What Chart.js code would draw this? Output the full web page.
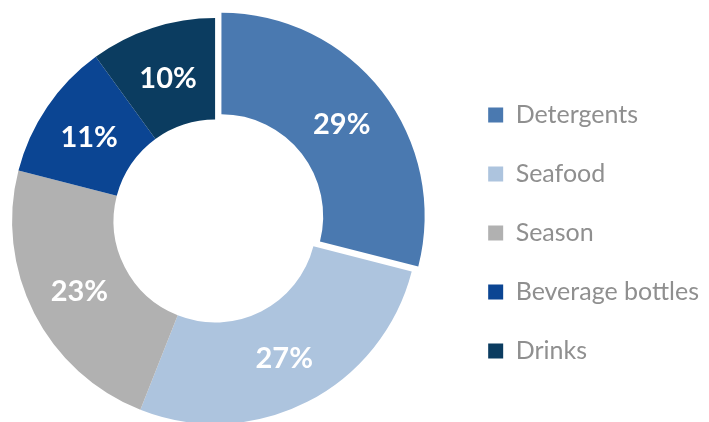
<!DOCTYPE html>
<html>
<head>
<meta charset="utf-8">
<script src="https://cdn.jsdelivr.net/npm/chart.js@4"></script>
<style>
html,body{margin:0;padding:0;background:#fff;overflow:hidden}
/* canvas starts a little left of the page so the ring sits nearer the edge */
#wrap{width:733px;height:422px;position:relative;margin-left:-24px}
</style>
</head>
<body>
<div id="wrap"><canvas id="shareChart"></canvas></div>
<script>

const categories=["Detergents","Seafood","Season","Beverage bottles","Drinks"]
const shares=[29,27,23,11,10]
const sliceColors=["#4a79b0","#adc4de","#b1b1b1","#0b4593","#0b3c60"]
const sliceOffsets=[32,0,0,0,0]

// white percentage text in the middle of each ring segment
const sliceLabels={
id:"sliceLabels",
afterDatasetsDraw(chart){
const ctx=chart.ctx
const meta=chart.getDatasetMeta(0)
ctx.save()
ctx.fillStyle="#fff"
ctx.font="bold 29px Lato"
ctx.textAlign="center"
ctx.textBaseline="middle"
meta.data.forEach((arc,i)=>{
const a=(arc.startAngle+arc.endAngle)/2
const r=(arc.innerRadius+arc.outerRadius)/2+(arc.options.offset||0)/4
ctx.fillText(shares[i]+"%",arc.x+Math.cos(a)*r,arc.y+Math.sin(a)*r+2)
})
ctx.restore()
}
}

new Chart(document.getElementById("shareChart"),{
type:"doughnut",
data:{
labels:categories,
datasets:[{
data:shares,
backgroundColor:sliceColors,
borderWidth:0,
offset:sliceOffsets,
hoverOffset:0
}]
},
options:{
responsive:true,
maintainAspectRatio:false,
animation:false,
radius:203,
cutout:"50%",
layout:{padding:{top:20,left:0,right:0,bottom:0}},
plugins:{
tooltip:{enabled:false},
legend:{
position:"right",
align:"center",
title:{display:true,text:"",font:{size:10},padding:{top:12,bottom:0}},
labels:{
boxWidth:15,
boxHeight:15,
padding:34,
color:"#8f8f8f",
font:{family:"Lato",size:25}
}
}
}
},
plugins:[sliceLabels]
})

</script>
</body>
</html>
